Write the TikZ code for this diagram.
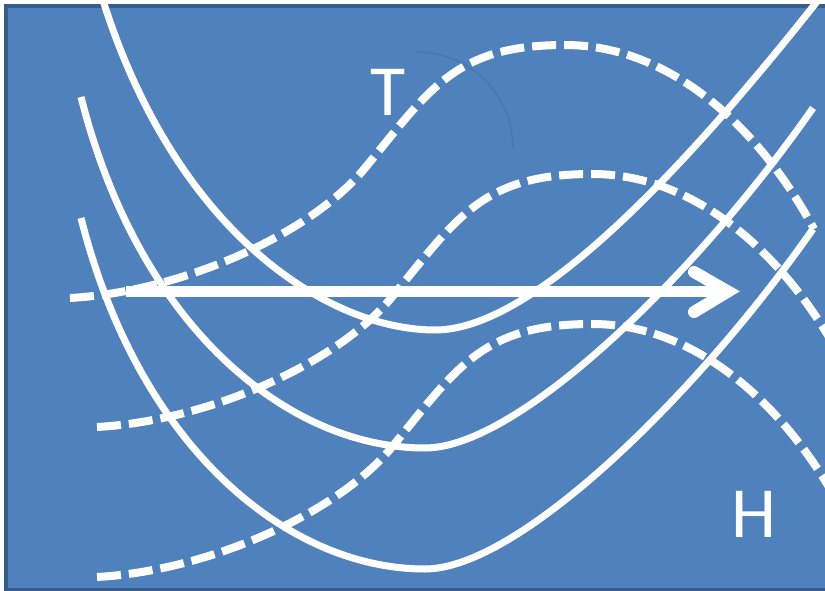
\documentclass[tikz,border=0pt]{standalone}
\usepackage{fontspec}
\newfontfamily\lblfont{Carlito}
\definecolor{bgblue}{HTML}{4F81BD}
\definecolor{edgeblue}{HTML}{385D8A}
\definecolor{faintarc}{HTML}{4775B0}
\tikzset{
  isoline/.style={white, line width=7pt, line cap=butt},
  frontline/.style={white, line width=8pt, dash pattern=on 24pt off 8pt},
  bigarrow/.style={white, line width=11pt},
  arrowhead/.style={white, line width=12pt, line cap=round, miter limit=10},
  letter/.style={white, font=\lblfont\fontsize{72}{72}\selectfont, inner sep=0pt, anchor=base}
}
\def\trough{(81,97) .. controls (140,330) and (290,448) .. (425,448) .. controls (520,448) and (700,270) .. (813,108)}
\def\ridge{(70,298) .. controls (180,292) and (310,235) .. (365,168) .. controls (430,89) and (455,45) .. (565,45) .. controls (665,45) and (755,120) .. (814,229)}
\begin{document}
\begin{tikzpicture}[x=1pt,y=-1pt]
\useasboundingbox (0,0) rectangle (825,591);
\clip (0,0) rectangle (825,591);
\fill[white] (0,0) rectangle (825,591);
\draw[fill=bgblue, draw=edgeblue, line width=4pt] (6,6.5) rectangle (850,589.5);
% faint arc
\draw[faintarc, line width=1.2pt] (417,52) .. controls (470,52) and (513,95) .. (513,148);
% solid isolines
\draw[isoline] (101,-6) .. controls (175,235) and (330,330) .. (435,330) .. controls (540,330) and (700,150) .. (823,-6);
\draw[isoline] \trough;
\draw[isoline, shift={(0,121)}] \trough;
% dashed lines
\draw[frontline] \ridge;
\draw[frontline, shift={(27,129)}] \ridge;
\draw[frontline, shift={(27,279)}] \ridge;
% arrow
\coordinate (tail) at (126,291.5);
\coordinate (tip) at (728,291.5);
\coordinate (armA) at (694,272);
\coordinate (armB) at (694,312);
\draw[bigarrow] (tail) -- (tip);
\draw[arrowhead] (armA) -- (tip) -- (armB);
% labels
\node[letter] (T) at (388,116) {T};
\node[letter] (H) at (753.5,537) {H};
\end{tikzpicture}
\end{document}
